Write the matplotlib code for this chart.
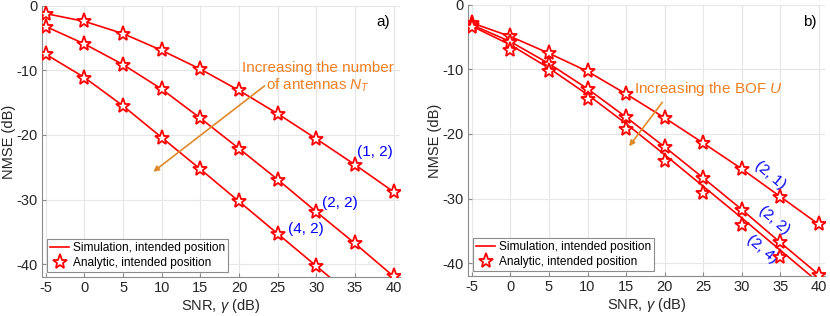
import numpy as np
import matplotlib
matplotlib.use("Agg")
import matplotlib.pyplot as plt
from matplotlib.lines import Line2D

plt.rcParams['font.family'] = ['Liberation Sans', 'DejaVu Sans']
plt.rcParams['mathtext.fontset'] = 'custom'
plt.rcParams['mathtext.rm'] = 'Liberation Sans'
plt.rcParams['mathtext.it'] = 'Liberation Sans:italic'
plt.rcParams['axes.unicode_minus'] = False

snr = [-5, 0, 5, 10, 15, 20, 25, 30, 35, 40]

# Panel a)
a_12 = [-1.2, -2.4, -4.3, -6.9, -9.8, -13.1, -16.7, -20.6, -24.6, -28.8]
a_22 = [-3.2, -5.9, -9.1, -12.9, -17.4, -22.1, -26.9, -31.9, -36.8, -41.9]
a_42 = [-7.5, -11.1, -15.5, -20.4, -25.3, -30.3, -35.3, -40.3, -45.3, np.nan]

# Panel b)
b_21 = [-2.8, -4.9, -7.5, -10.3, -13.8, -17.5, -21.4, -25.4, -29.7, -34.0]
b_22 = [-3.1, -5.7, -9.1, -13.0, -17.4, -22.0, -26.8, -31.7, -36.8, -41.8]
b_24_sim = [-3.3, -6.2, -9.8, -13.9, -18.4, -23.2, -28.1, -33.0, -38.0, -43.0]
b_24_ana = [-3.5, -7.0, -10.2, -14.6, -19.3, -24.2, -29.1, -34.1, -39.0, np.nan]

xticks = [-5, 0, 5, 10, 15, 20, 25, 30, 35, 40]
yticks = [-40, -30, -20, -10, 0]

RED = '#FF0000'
BLUE = '#0000FF'
ORANGE_T = '#F07F22'
ORANGE_A = '#E0892A'
GRAY = '#262626'

fig = plt.figure(figsize=(8.3, 3.16), dpi=100)
axa = fig.add_axes([0.0506, 0.1234, 0.431, 0.858])
axb = fig.add_axes([0.5639, 0.1266, 0.430, 0.858])

def style(ax):
    ax.set_xlim(-5.5, 40.8)
    ax.set_ylim(-42, 0)
    ax.set_xticks(xticks)
    ax.set_yticks(yticks)
    ax.grid(True, color='#E6E6E6', linewidth=0.8)
    ax.set_axisbelow(True)
    for s in ['top', 'right']:
        ax.spines[s].set_visible(False)
    for s in ['left', 'bottom']:
        ax.spines[s].set_color('#8C8C8C')
        ax.spines[s].set_linewidth(0.8)
    ax.tick_params(direction='in', length=3, color='#8C8C8C', labelsize=10.5,
                   labelcolor=GRAY, pad=3)
    ax.set_xlabel('SNR, $\\gamma$ (dB)', fontsize=10.5, color=GRAY, labelpad=1)
    ax.set_ylabel('NMSE (dB)', fontsize=10.5, color=GRAY)
    ax.yaxis.set_label_coords(-0.074, 0.5)

def plot_pair(ax, sim, ana):
    ax.plot(snr, sim, color=RED, linewidth=1.2, zorder=3)
    ax.plot(snr, ana, linestyle='none', marker='*', markersize=11,
            markerfacecolor='white', markeredgecolor=RED, markeredgewidth=1.3, zorder=4)

def add_legend(ax):
    handles = [Line2D([], [], color=RED, linewidth=1.2),
               Line2D([], [], linestyle='none', marker='*', markersize=11,
                      markerfacecolor='white', markeredgecolor=RED, markeredgewidth=1.3)]
    leg = ax.legend(handles, ['Simulation, intended position', 'Analytic, intended position'],
                    loc='lower left', bbox_to_anchor=(0.008, 0.01), fontsize=8.6,
                    frameon=True, fancybox=False, framealpha=1, edgecolor='#8C8C8C',
                    borderpad=0.25, handlelength=1.6, handletextpad=0.3,
                    labelspacing=0.25, borderaxespad=0.2)
    leg.get_frame().set_linewidth(0.8)

# Panel a
style(axa)
plot_pair(axa, a_12, a_12)
plot_pair(axa, a_22, a_22)
plot_pair(axa, a_42, a_42)
axa.text(35.3, -22.7, '(1, 2)', color=BLUE, fontsize=11, va='center', ha='left')
axa.text(30.8, -30.5, '(2, 2)', color=BLUE, fontsize=11, va='center', ha='left')
axa.text(26.3, -34.6, '(4, 2)', color=BLUE, fontsize=11, va='center', ha='left')
axa.text(30.2, -11.1, 'Increasing the number\nof antennas $N_T$', color=ORANGE_T,
         fontsize=11, ha='center', va='center', linespacing=1.1)
axa.annotate('', xy=(8.9, -25.7), xytext=(23.3, -12.4),
             arrowprops=dict(arrowstyle='-|>', color=ORANGE_A, lw=1.2,
                             mutation_scale=8, shrinkA=0, shrinkB=0))
axa.text(38.6, -2.5, 'a)', fontsize=11, color='black', ha='center', va='center')
add_legend(axa)

# Panel b
style(axb)
plot_pair(axb, b_21, b_21)
plot_pair(axb, b_22, b_22)
plot_pair(axb, b_24_sim, b_24_ana)
axb.text(33.7, -26.3, '(2, 1)', color=BLUE, fontsize=11, va='center', ha='center', rotation=-40)
axb.text(34.2, -33.3, '(2, 2)', color=BLUE, fontsize=11, va='center', ha='center', rotation=-40)
axb.text(32.7, -37.9, '(2, 4)', color=BLUE, fontsize=11, va='center', ha='center', rotation=-40)
axb.text(25.7, -13.1, 'Increasing the BOF $U$', color=ORANGE_T, fontsize=11,
         ha='center', va='center')
axb.annotate('', xy=(15.4, -21.9), xytext=(19.7, -15.1),
             arrowprops=dict(arrowstyle='-|>', color=ORANGE_A, lw=1.2,
                             mutation_scale=8, shrinkA=0, shrinkB=0))
axb.text(38.9, -2.6, 'b)', fontsize=11, color='black', ha='center', va='center')
add_legend(axb)

fig.savefig('out.png', dpi=100)
